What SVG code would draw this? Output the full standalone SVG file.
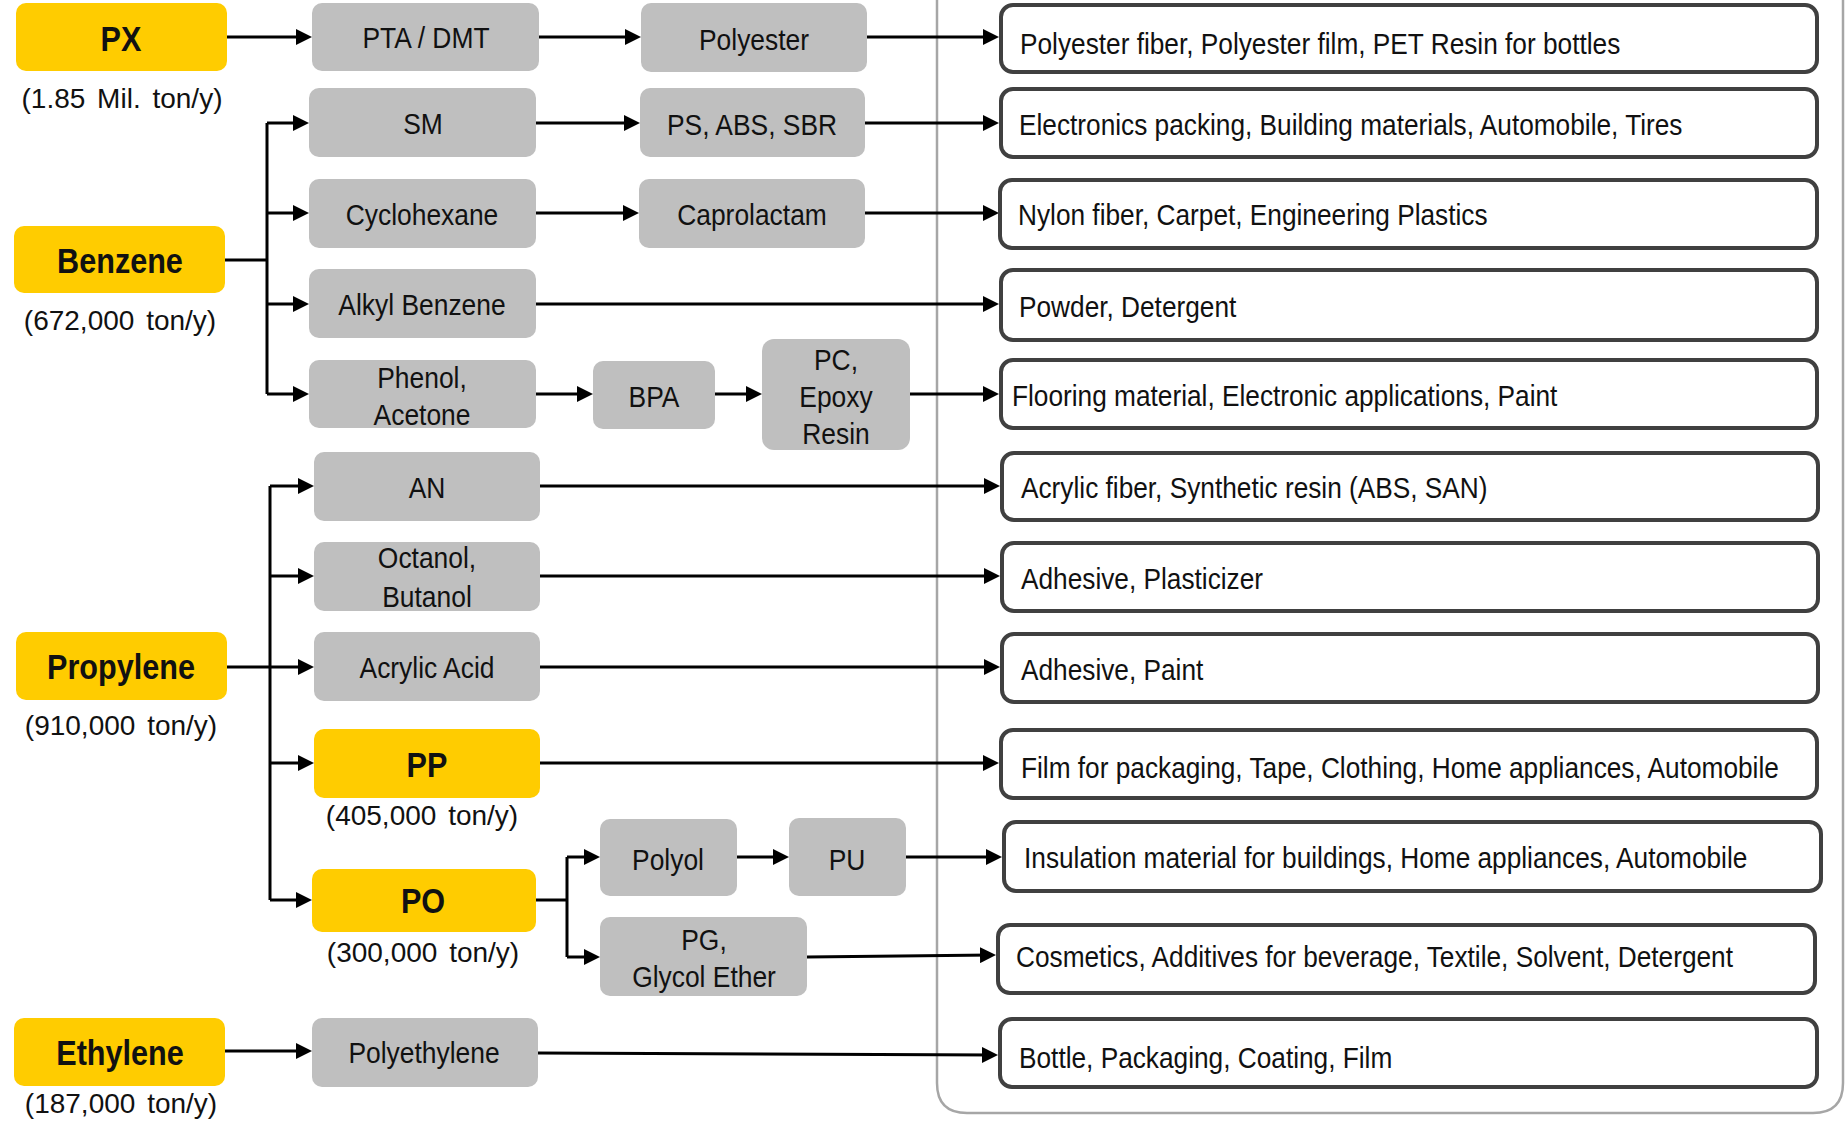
<svg xmlns="http://www.w3.org/2000/svg" width="1845" height="1121" viewBox="0 0 1845 1121">
<defs>
<marker id="arr" viewBox="0 0 10 10" refX="7.5" refY="5" markerUnits="userSpaceOnUse" markerWidth="16" markerHeight="16" orient="auto">
<path d="M0,0 L10,5 L0,10 z" fill="#000"/>
</marker>
<style>
text{font-family:'Liberation Sans',Arial,sans-serif;fill:#111;}
.y{fill:#FFCC00;}
.g{fill:#BFBFBF;}
.o{fill:#fff;stroke:#404040;stroke-width:4;}
.t{font-size:30px;text-anchor:middle;}
.b{font-size:36px;font-weight:bold;text-anchor:middle;}
.cap{font-size:28px;text-anchor:middle;word-spacing:4px;}
.ot{font-size:30px;}
.c{fill:none;stroke:#000;stroke-width:3;}
.a{marker-end:url(#arr);}
</style>
</defs>
<path d="M937,0 V1083 Q937,1113 967,1113 H1813 Q1843,1113 1843,1083 V0" fill="none" stroke="#A6A6A6" stroke-width="2.5"/>
<g id="connectors">
<path class="c a" d="M227,37 H308"/>
<path class="c a" d="M539,37 H637"/>
<path class="c a" d="M867,37 H995"/>
<path class="c" d="M225,260 H267 M267,123 V394"/>
<path class="c a" d="M267,123 H305"/>
<path class="c a" d="M267,213 H305"/>
<path class="c a" d="M267,304 H305"/>
<path class="c a" d="M267,394 H305"/>
<path class="c a" d="M536,123 H636"/>
<path class="c a" d="M865,123 H995"/>
<path class="c a" d="M536,213 H635"/>
<path class="c a" d="M865,213 H995"/>
<path class="c a" d="M536,304 H995"/>
<path class="c a" d="M536,394 H589"/>
<path class="c a" d="M715,394 H758"/>
<path class="c a" d="M910,394 H995"/>
<path class="c" d="M227,667 H270 M270,486 V900"/>
<path class="c a" d="M270,486 H310"/>
<path class="c a" d="M270,576 H310"/>
<path class="c a" d="M270,667 H310"/>
<path class="c a" d="M270,763 H310"/>
<path class="c a" d="M270,900 H308"/>
<path class="c a" d="M540,486 H996"/>
<path class="c a" d="M540,576 H996"/>
<path class="c a" d="M540,667 H996"/>
<path class="c a" d="M540,763 H995"/>
<path class="c" d="M536,900 H567 M567,857 V957"/>
<path class="c a" d="M567,857 H596"/>
<path class="c a" d="M567,957 H596"/>
<path class="c a" d="M737,857 H785"/>
<path class="c a" d="M906,857 H998"/>
<path class="c a" d="M807,957 L992,955"/>
<path class="c a" d="M225,1051 H308"/>
<path class="c a" d="M538,1053 L994,1055"/>
</g>
<g id="n-px"><rect class="y" x="16" y="3" width="211" height="68" rx="10"/><text class="b" transform="translate(121 0) scale(.85 1)" y="51">PX</text><text class="cap" x="122" y="108">(1.85 Mil. ton/y)</text></g>
<g id="n-benzene"><rect class="y" x="14" y="226" width="211" height="67" rx="10"/><text class="b" transform="translate(120 0) scale(.85 1)" y="273">Benzene</text><text class="cap" x="120" y="330">(672,000 ton/y)</text></g>
<g id="n-propylene"><rect class="y" x="16" y="632" width="211" height="68" rx="10"/><text class="b" transform="translate(121 0) scale(.85 1)" y="679">Propylene</text><text class="cap" x="121" y="735">(910,000 ton/y)</text></g>
<g id="n-ethylene"><rect class="y" x="14" y="1018" width="211" height="68" rx="10"/><text class="b" transform="translate(120 0) scale(.85 1)" y="1065">Ethylene</text><text class="cap" x="121" y="1113">(187,000 ton/y)</text></g>
<g id="n-pta"><rect class="g" x="312" y="3" width="227" height="68" rx="10"/><text class="t" transform="translate(426 0) scale(.88 1)" y="48">PTA / DMT</text></g>
<g id="n-sm"><rect class="g" x="309" y="88" width="227" height="69" rx="10"/><text class="t" transform="translate(423 0) scale(.88 1)" y="134">SM</text></g>
<g id="n-cyclohexane"><rect class="g" x="309" y="179" width="227" height="69" rx="10"/><text class="t" transform="translate(422 0) scale(.88 1)" y="225">Cyclohexane</text></g>
<g id="n-alkyl"><rect class="g" x="309" y="269" width="227" height="69" rx="10"/><text class="t" transform="translate(422 0) scale(.88 1)" y="315">Alkyl Benzene</text></g>
<g id="n-phenol"><rect class="g" x="309" y="360" width="227" height="68" rx="10"/><text class="t" transform="translate(422 0) scale(.88 1)"><tspan x="0" y="388">Phenol,</tspan><tspan x="0" y="425">Acetone</tspan></text></g>
<g id="n-an"><rect class="g" x="314" y="452" width="226" height="69" rx="10"/><text class="t" transform="translate(427 0) scale(.88 1)" y="498">AN</text></g>
<g id="n-octanol"><rect class="g" x="314" y="542" width="226" height="69" rx="10"/><text class="t" transform="translate(427 0) scale(.88 1)"><tspan x="0" y="568">Octanol,</tspan><tspan x="0" y="607">Butanol</tspan></text></g>
<g id="n-acrylic"><rect class="g" x="314" y="632" width="226" height="69" rx="10"/><text class="t" transform="translate(427 0) scale(.88 1)" y="678">Acrylic Acid</text></g>
<g id="n-pp"><rect class="y" x="314" y="729" width="226" height="69" rx="10"/><text class="b" transform="translate(427 0) scale(.85 1)" y="777">PP</text><text class="cap" x="422" y="825">(405,000 ton/y)</text></g>
<g id="n-po"><rect class="y" x="312" y="869" width="224" height="63" rx="10"/><text class="b" transform="translate(423 0) scale(.85 1)" y="913">PO</text><text class="cap" x="423" y="962">(300,000 ton/y)</text></g>
<g id="n-polyethylene"><rect class="g" x="312" y="1018" width="226" height="69" rx="10"/><text class="t" transform="translate(424 0) scale(.88 1)" y="1063">Polyethylene</text></g>
<g id="n-polyester"><rect class="g" x="641" y="3" width="226" height="69" rx="10"/><text class="t" transform="translate(754 0) scale(.88 1)" y="50">Polyester</text></g>
<g id="n-ps"><rect class="g" x="640" y="88" width="225" height="69" rx="10"/><text class="t" transform="translate(752 0) scale(.88 1)" y="135">PS, ABS, SBR</text></g>
<g id="n-caprolactam"><rect class="g" x="639" y="179" width="226" height="69" rx="10"/><text class="t" transform="translate(752 0) scale(.88 1)" y="225">Caprolactam</text></g>
<g id="n-bpa"><rect class="g" x="593" y="361" width="122" height="68" rx="10"/><text class="t" transform="translate(654 0) scale(.88 1)" y="407">BPA</text></g>
<g id="n-pc"><rect class="g" x="762" y="339" width="148" height="111" rx="12"/><text class="t" transform="translate(836 0) scale(.88 1)"><tspan x="0" y="370">PC,</tspan><tspan x="0" y="407">Epoxy</tspan><tspan x="0" y="444">Resin</tspan></text></g>
<g id="n-polyol"><rect class="g" x="600" y="819" width="137" height="77" rx="10"/><text class="t" transform="translate(668 0) scale(.88 1)" y="870">Polyol</text></g>
<g id="n-pu"><rect class="g" x="789" y="818" width="117" height="78" rx="10"/><text class="t" transform="translate(847 0) scale(.88 1)" y="870">PU</text></g>
<g id="n-pg"><rect class="g" x="600" y="917" width="207" height="79" rx="10"/><text class="t" transform="translate(704 0) scale(.88 1)"><tspan x="0" y="950">PG,</tspan><tspan x="0" y="987">Glycol Ether</tspan></text></g>
<g id="u1"><rect class="o" x="1001" y="5" width="816" height="67" rx="12"/><text class="ot" transform="translate(1020 0) scale(.875 1)" y="54">Polyester fiber, Polyester film, PET Resin for bottles</text></g>
<g id="u2"><rect class="o" x="1001" y="89" width="816" height="68" rx="12"/><text class="ot" transform="translate(1019 0) scale(.875 1)" y="135">Electronics packing, Building materials, Automobile, Tires</text></g>
<g id="u3"><rect class="o" x="1000" y="180" width="817" height="68" rx="12"/><text class="ot" transform="translate(1018 0) scale(.875 1)" y="225">Nylon fiber, Carpet, Engineering Plastics</text></g>
<g id="u4"><rect class="o" x="1001" y="270" width="816" height="70" rx="12"/><text class="ot" transform="translate(1019 0) scale(.875 1)" y="317">Powder, Detergent</text></g>
<g id="u5"><rect class="o" x="1001" y="360" width="816" height="68" rx="12"/><text class="ot" transform="translate(1012 0) scale(.875 1)" y="406">Flooring material, Electronic applications, Paint</text></g>
<g id="u6"><rect class="o" x="1002" y="453" width="816" height="67" rx="12"/><text class="ot" transform="translate(1021 0) scale(.875 1)" y="498">Acrylic fiber, Synthetic resin (ABS, SAN)</text></g>
<g id="u7"><rect class="o" x="1002" y="543" width="816" height="68" rx="12"/><text class="ot" transform="translate(1021 0) scale(.875 1)" y="589">Adhesive, Plasticizer</text></g>
<g id="u8"><rect class="o" x="1002" y="634" width="816" height="68" rx="12"/><text class="ot" transform="translate(1021 0) scale(.875 1)" y="680">Adhesive, Paint</text></g>
<g id="u9"><rect class="o" x="1001" y="730" width="816" height="68" rx="12"/><text class="ot" transform="translate(1021 0) scale(.875 1)" y="778">Film for packaging, Tape, Clothing, Home appliances, Automobile</text></g>
<g id="u10"><rect class="o" x="1004" y="822" width="817" height="69" rx="12"/><text class="ot" transform="translate(1024 0) scale(.875 1)" y="868">Insulation material for buildings, Home appliances, Automobile</text></g>
<g id="u11"><rect class="o" x="998" y="925" width="817" height="68" rx="12"/><text class="ot" transform="translate(1016 0) scale(.875 1)" y="967">Cosmetics, Additives for beverage, Textile, Solvent, Detergent</text></g>
<g id="u12"><rect class="o" x="1000" y="1019" width="817" height="68" rx="12"/><text class="ot" transform="translate(1019 0) scale(.875 1)" y="1068">Bottle, Packaging, Coating, Film</text></g>
</svg>
